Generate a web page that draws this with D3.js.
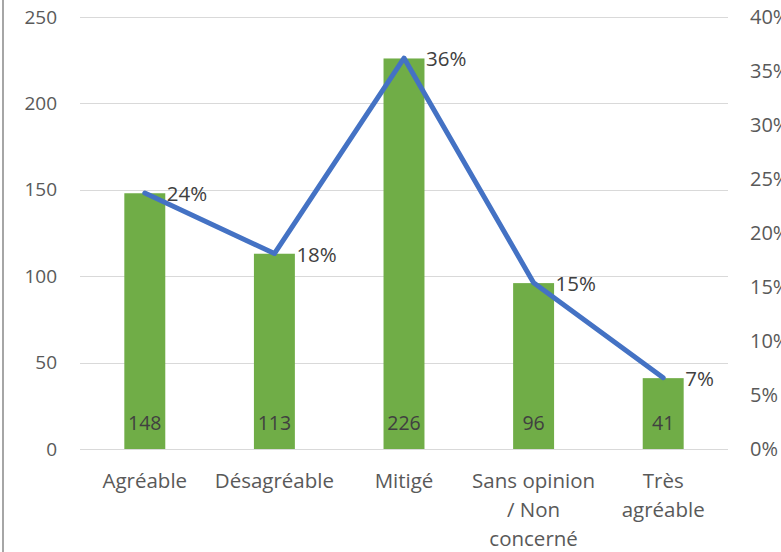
<!DOCTYPE html>
<html><head><meta charset="utf-8">
<script src="https://cdn.jsdelivr.net/npm/d3@7"></script>
<style>body{margin:0;background:#fff}svg{display:block}text{font-family:"Open Sans",sans-serif}</style>
</head><body>
<svg id="c" width="781" height="552"></svg>
<script>
const categories = [["Agréable"],["Désagréable"],["Mitigé"],["Sans opinion","/ Non","concerné"],["Très","agréable"]];
const counts = [148,113,226,96,41];
const shares = [0.237,0.181,0.362,0.154,0.066];
const shareLabels = ["24%","18%","36%","15%","7%"];
const leftTicks = [0,50,100,150,200,250];
const rightTicks = [0,0.05,0.10,0.15,0.20,0.25,0.30,0.35,0.40];

const svg = d3.select("#c");
const L=80,R=728,T=17,B=449;
const x = d3.scaleBand().domain(d3.range(5)).range([L,R]).paddingInner(0.684).paddingOuter(0.342);
const y = d3.scaleLinear().domain([0,250]).range([B,T]);
const y2 = d3.scaleLinear().domain([0,0.4]).range([B,T]);

svg.append("rect").attr("x",2).attr("y",0).attr("width",2).attr("height",552).attr("fill","#a6a6a6");

svg.append("g").selectAll("line").data(leftTicks).join("line")
  .attr("x1",L).attr("x2",R).attr("y1",d=>Math.round(y(d))+0.5).attr("y2",d=>Math.round(y(d))+0.5)
  .attr("stroke","#d9d9d9").attr("stroke-width",1.2);

svg.append("g").selectAll("text").data(leftTicks).join("text")
  .attr("x",57).attr("y",d=>y(d)).attr("dy","0.35em").attr("text-anchor","end")
  .attr("font-size",19).attr("fill","#595959").text(d=>d);

svg.append("g").selectAll("text").data(rightTicks).join("text")
  .attr("x",750).attr("y",d=>y2(d)).attr("dy","0.35em").attr("text-anchor","start")
  .attr("font-size",20).attr("fill","#595959").text(d=>Math.round(d*100)+"%");

svg.append("g").selectAll("rect").data(counts).join("rect")
  .attr("x",(d,i)=>x(i)).attr("width",x.bandwidth()).attr("y",d=>y(d)).attr("height",d=>B-y(d))
  .attr("fill","#70ad47");

svg.append("g").selectAll("text").data(counts).join("text")
  .attr("x",(d,i)=>x(i)+x.bandwidth()/2).attr("y",B-26).attr("dy","0.35em").attr("text-anchor","middle")
  .attr("font-size",19.5).attr("fill","#404040").text(d=>d);

const cx = i=>x(i)+x.bandwidth()/2;
svg.append("path").datum(shares)
  .attr("d",d3.line().x((d,i)=>cx(i)).y(d=>y2(d)))
  .attr("fill","none").attr("stroke","#4472c4").attr("stroke-width",5).attr("stroke-linecap","round").attr("stroke-linejoin","round");

svg.append("g").selectAll("text").data(shares).join("text")
  .attr("x",(d,i)=>cx(i)+22).attr("y",d=>y2(d)+1).attr("dy","0.35em")
  .attr("font-size",20.5).attr("fill","#404040").text((d,i)=>shareLabels[i]);

const xl = svg.append("g").selectAll("text").data(categories).join("text")
  .attr("x",(d,i)=>cx(i)).attr("y",481).attr("text-anchor","middle")
  .attr("font-size",20.5).attr("fill","#595959");
xl.each(function(lines,i){
  d3.select(this).selectAll("tspan").data(lines).join("tspan")
    .attr("x",cx(i)).attr("y",(l,j)=>481+j*29).attr("dy","0.35em").text(l=>l);
});
</script>
</body></html>
